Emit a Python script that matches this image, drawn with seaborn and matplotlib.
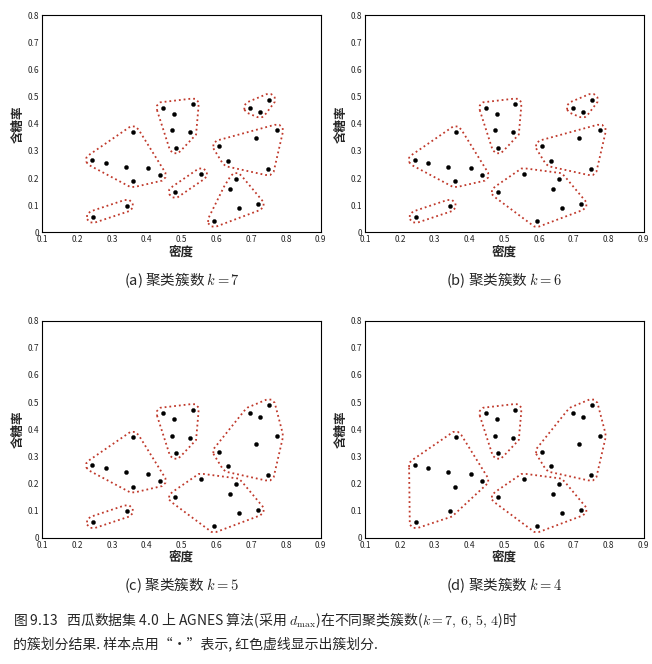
import numpy as np
import matplotlib
matplotlib.use('Agg')
import matplotlib.pyplot as plt
import seaborn as sns

sns.set_style('white')
plt.rcParams['font.family'] = ['Noto Sans CJK SC', 'DejaVu Sans']
plt.rcParams['mathtext.fontset'] = 'cm'

# ── 西瓜数据集 4.0 ────────────────────────────────────────────
density = [0.697, 0.774, 0.634, 0.608, 0.556, 0.403, 0.481, 0.437, 0.666, 0.243,
           0.245, 0.343, 0.639, 0.657, 0.360, 0.593, 0.719, 0.359, 0.339, 0.282,
           0.748, 0.714, 0.483, 0.478, 0.525, 0.751, 0.532, 0.473, 0.725, 0.446]
sugar = [0.460, 0.376, 0.264, 0.318, 0.215, 0.237, 0.149, 0.211, 0.091, 0.267,
         0.057, 0.099, 0.161, 0.198, 0.370, 0.042, 0.103, 0.188, 0.241, 0.257,
         0.232, 0.346, 0.312, 0.437, 0.369, 0.489, 0.472, 0.376, 0.445, 0.459]

# clusters (1-based sample ids)
A = [10, 20, 19, 15, 6, 18, 8]
B = [11, 12]
C = [30, 24, 27, 28, 25, 23]
D = [7, 5]
E = [26, 29, 1]
F = [4, 3, 22, 21, 2]
G = [16, 9, 13, 14, 17]
clusterings = {
    7: [A, B, C, D, E, F, G],
    6: [A, B, C, D + G, E, F],
    5: [A, B, C, D + G, E + F],
    4: [A + B, C, D + G, E + F],
}
panel_tags = ['(a)', '(b)', '(c)', '(d)']


def hull(pts):
    pts = sorted(set(pts))
    def cross(o, a, b):
        return (a[0]-o[0])*(b[1]-o[1]) - (a[1]-o[1])*(b[0]-o[0])
    lower, upper = [], []
    for p in pts:
        while len(lower) >= 2 and cross(lower[-2], lower[-1], p) <= 0:
            lower.pop()
        lower.append(p)
    for p in reversed(pts):
        while len(upper) >= 2 and cross(upper[-2], upper[-1], p) <= 0:
            upper.pop()
        upper.append(p)
    return lower[:-1] + upper[:-1]


def outline(ids, rx=0.018, ry=0.022):
    pts = []
    angles = np.linspace(0, 2*np.pi, 8, endpoint=False) + np.pi/8
    for i in ids:
        x, y = density[i-1], sugar[i-1]
        for a in angles:
            pts.append((round(x + rx*np.cos(a), 5), round(y + ry*np.sin(a), 5)))
    h = hull(pts)
    h.append(h[0])
    return np.array(h)


fig = plt.figure(figsize=(6.52, 6.64), dpi=100)
positions = [(0.065, 0.650), (0.560, 0.650), (0.065, 0.190), (0.560, 0.190)]
for (k, groups), tag, (l, b) in zip(clusterings.items(), panel_tags, positions):
    ax = fig.add_axes([l, b, 0.427, 0.327])
    sns.scatterplot(x=density, y=sugar, color='black', s=9, edgecolor='black', ax=ax, zorder=3)
    for g in groups:
        poly = outline(g)
        ax.plot(poly[:, 0], poly[:, 1], color='#c0392b', linestyle=':', linewidth=1.3)
    ax.set_xlim(0.1, 0.9)
    ax.set_ylim(0, 0.8)
    ax.set_xticks(np.arange(0.1, 0.91, 0.1))
    ax.set_yticks(np.arange(0, 0.81, 0.1))
    ax.set_xticklabels([f'{v:.1f}' for v in np.arange(0.1, 0.91, 0.1)])
    ax.set_yticklabels(['0'] + [f'{v:.1f}' for v in np.arange(0.1, 0.81, 0.1)])
    ax.tick_params(labelsize=6, direction='in', length=3, pad=2)
    for s in ax.spines.values():
        s.set_color('black'); s.set_linewidth(0.8)
    ax.set_xlabel('密度', fontsize=9, fontweight='bold', labelpad=1)
    ax.set_ylabel('含糖率', fontsize=9, fontweight='bold', labelpad=2)
    ax.text(0.5, -0.22, f'{tag} 聚类簇数 $k={k}$', transform=ax.transAxes,
            ha='center', va='center', fontsize=10.5)

fig.text(0.02, 0.050,
         '图 9.13   西瓜数据集 4.0 上 AGNES 算法(采用 $d_{\\max}$)在不同聚类簇数($k=7,\\,6,\\,5,\\,4$)时\n'
         '的簇划分结果. 样本点用“•”表示, 红色虚线显示出簇划分.',
         fontsize=10, ha='left', va='center', linespacing=1.6)

plt.savefig('out.png', dpi=100)
plt.close()
